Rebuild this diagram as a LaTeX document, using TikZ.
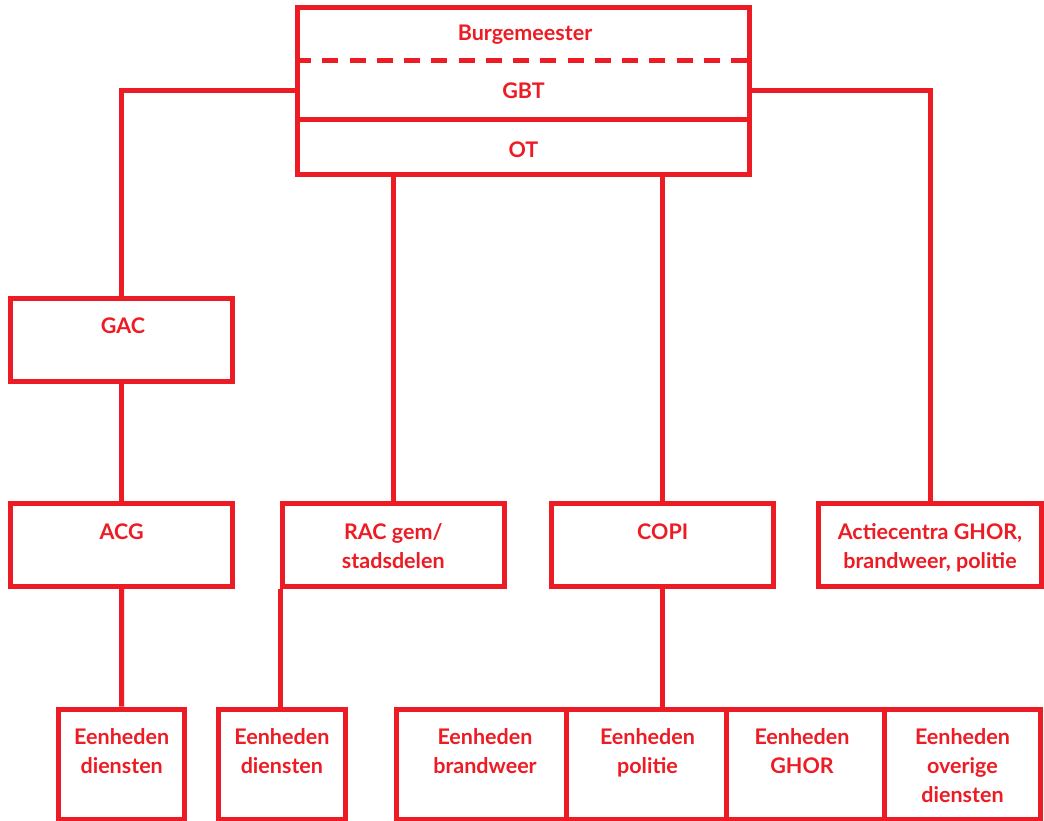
\documentclass[tikz,border=0pt]{standalone}
\usepackage{fontspec}
\setmainfont{Lato}
\definecolor{ored}{RGB}{237,28,36}
\begin{document}
\begin{tikzpicture}[x=1pt,y=-1pt]
\tikzset{
  box/.style={draw=ored, line width=5pt, rectangle, inner sep=0pt},
  txt/.style={text=ored, font=\fontsize{21.5}{29}\selectfont\bfseries, inner sep=0pt, align=center, anchor=base},
  link/.style={draw=ored, line width=5pt},
}
\useasboundingbox (0,0) rectangle (1044,821);
\fill[white] (0,0) rectangle (1044,821);
% top block
\node[box, minimum width=452pt, minimum height=167pt] (top) at (523.5,91.5) {};
\draw[link, dash pattern=on 16pt off 11.25pt] (top.west |- 0,61) -- (top.east |- 0,61);
\draw[link] (top.west |- 0,119.5) -- (top.east |- 0,119.5);
\node[txt] (burg) at (525,40.5) {Burgemeester};
\node[txt] (gbt) at (523.5,98.5) {GBT};
\node[txt] (ot) at (523.5,157.5) {OT};
% middle boxes
\node[box, minimum width=222pt, minimum height=82.5pt] (gac) at (121.6,340) {};
\node[txt] (gact) at (123,333.5) {GAC};
\node[box, minimum width=222pt, minimum height=82.5pt] (acg) at (121.6,545.2) {};
\node[txt] (acgt) at (121.6,539.5) {ACG};
\node[box, minimum width=221.5pt, minimum height=82.5pt] (rac) at (393.3,545.2) {};
\node[txt] (ract) at (393.3,568.5) {RAC gem/\\stadsdelen};
\node[box, minimum width=222pt, minimum height=82.5pt] (copi) at (662.7,545.2) {};
\node[txt] (copit) at (662.7,539.5) {COPI};
\node[box, minimum width=222.7pt, minimum height=82.5pt] (act) at (930,545.2) {};
\node[txt] (actt) at (930,568.5) {Actiecentra GHOR,\\brandweer, politie};
% bottom boxes
\node[box, minimum width=126.5pt, minimum height=110pt] (ed1) at (121.7,764) {};
\node[txt] (ed1t) at (121.7,773.5) {Eenheden\\diensten};
\node[box, minimum width=126.2pt, minimum height=110pt] (ed2) at (281.9,764) {};
\node[txt] (ed2t) at (281.9,773.5) {Eenheden\\diensten};
\node[box, minimum width=170.7pt, minimum height=110pt] (brw) at (481.35,764) {};
\node[txt] (brwt) at (485,773.5) {Eenheden\\brandweer};
\node[box, minimum width=160pt, minimum height=110pt] (pol) at (646.7,764) {};
\node[txt] (polt) at (647.5,773.5) {Eenheden\\politie};
\node[box, minimum width=157.8pt, minimum height=110pt] (ghor) at (805.6,764) {};
\node[txt] (ghort) at (802,773.5) {Eenheden\\GHOR};
\node[box, minimum width=155.5pt, minimum height=110pt] (ovr) at (962.25,764) {};
\node[txt] (ovrt) at (962.5,802.5) {Eenheden\\overige\\diensten};
% connectors
\draw[link] (top.west |- gbt) -| (gac.north);
\draw[link] (top.east |- gbt) -| (act.north);
\draw[link] (top.south -| rac.north) -- (rac.north);
\draw[link] (top.south -| copi.north) -- (copi.north);
\draw[link] (gac.south) -- (acg.north);
\draw[link] (acg.south) -- (ed1.north);
\draw[link] (rac.south west) -- (rac.south west |- ed2.north);
\draw[link] (copi.south) -- (copi.south |- pol.north);
\end{tikzpicture}
\end{document}
